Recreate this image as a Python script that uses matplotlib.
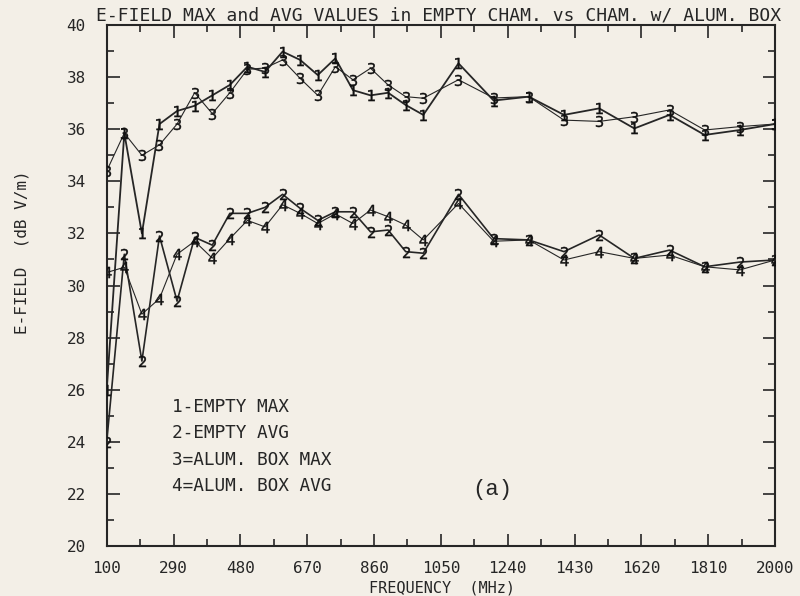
import matplotlib
matplotlib.use("Agg")
import matplotlib.pyplot as plt
from matplotlib.ticker import AutoMinorLocator

# sweep frequencies (MHz): 50 MHz steps to 1000, then 100 MHz steps
FREQ = [100, 150, 200, 250, 300, 350, 400, 450, 500, 550,
        600, 650, 700, 750, 800, 850, 900, 950, 1000,
        1100, 1200, 1300, 1400, 1500, 1600, 1700, 1800, 1900, 2000]

# 1 = empty chamber max
EMPTY_MAX = [26.0, 35.85, 32.0, 36.2, 36.7, 36.9, 37.3, 37.7, 38.4, 38.2,
             38.98, 38.66, 38.08, 38.72, 37.5, 37.3, 37.4, 36.93, 36.55,
             38.53, 37.1, 37.25, 36.55, 36.8, 36.03, 36.55, 35.78, 35.97, 36.2]
# 2 = empty chamber avg
EMPTY_AVG = [24.0, 31.2, 27.1, 31.9, 29.4, 31.85, 31.55, 32.77, 32.77, 33.0,
             33.5, 32.96, 32.5, 32.83, 32.83, 32.06, 32.13, 31.3, 31.24,
             33.5, 31.8, 31.75, 31.3, 31.94, 31.04, 31.36, 30.72, 30.9, 30.98]
# 3 = chamber with aluminium box, max
ALUM_MAX = [34.4, 35.85, 35.0, 35.4, 36.2, 37.4, 36.6, 37.4, 38.3, 38.35,
            38.66, 37.95, 37.3, 38.4, 37.9, 38.34, 37.7, 37.25, 37.19,
            37.9, 37.2, 37.25, 36.35, 36.3, 36.48, 36.74, 35.97, 36.1, 36.2]
# 4 = chamber with aluminium box, avg
ALUM_AVG = [30.5, 30.7, 28.9, 29.5, 31.2, 31.7, 31.05, 31.8, 32.5, 32.25,
            33.1, 32.77, 32.38, 32.75, 32.38, 32.9, 32.64, 32.32, 31.75,
            33.15, 31.7, 31.75, 30.98, 31.3, 31.04, 31.17, 30.72, 30.6, 30.98]

LEGEND_LINES = ["1-EMPTY MAX", "2-EMPTY AVG", "3=ALUM. BOX MAX", "4=ALUM. BOX AVG"]
TITLE = "E-FIELD MAX and AVG VALUES in EMPTY CHAM. vs CHAM. w/ ALUM. BOX"

PAPER = "#f3efe7"
INK = "#262626"
MONO = "DejaVu Sans Mono"

fig = plt.figure(figsize=(8.0, 5.96), dpi=100, facecolor=PAPER)
ax = fig.add_axes([0.1334, 0.0839, 0.8354, 0.8741], facecolor=PAPER)

series = [
    (EMPTY_MAX, "1", 1.3),
    (EMPTY_AVG, "2", 1.2),
    (ALUM_MAX, "3", 0.8),
    (ALUM_AVG, "4", 0.8),
]
for vals, digit, lw in series:
    ax.plot(FREQ, vals, color=INK, lw=lw, zorder=2)
    ax.plot(FREQ, vals, ls="none", marker=f"${digit}$", ms=8, color="#111111",
            mew=0.3, zorder=3)

ax.set_xlim(100, 2000)
ax.set_ylim(20, 40)
ax.set_xticks(range(100, 2001, 190))
ax.set_yticks(range(20, 41, 2))
ax.xaxis.set_minor_locator(AutoMinorLocator(2))
ax.yaxis.set_minor_locator(AutoMinorLocator(2))
ax.tick_params(which="both", direction="in", top=True, right=True, color=INK, width=1.2)
ax.tick_params(which="major", length=9)
ax.tick_params(which="minor", length=5)
ax.tick_params(axis="x", which="major", pad=11, labelsize=11.5, labelcolor=INK)
ax.tick_params(axis="y", which="major", pad=15, labelsize=11.5, labelcolor=INK)
for lab in ax.get_xticklabels() + ax.get_yticklabels():
    lab.set_family(MONO)
for sp in ax.spines.values():
    sp.set_color(INK)
    sp.set_linewidth(1.5)

fig.text(96 / 800, 1 - 15 / 596, TITLE, family=MONO, fontsize=13.0, color=INK,
         ha="left", va="center")
fig.text(442 / 800, 1 - 588 / 596, "FREQUENCY  (MHz)", family=MONO, fontsize=11,
         color=INK, ha="center", va="center")
fig.text(22 / 800, 1 - 252 / 596, "E-FIELD  (dB V/m)", family=MONO, fontsize=11.5,
         color=INK, ha="center", va="center", rotation=90)

for i, line in enumerate(LEGEND_LINES):
    ax.text(172 / 800, 1 - (407 + 26.3 * i) / 596, line, transform=fig.transFigure,
            family=MONO, fontsize=12.8, color=INK, ha="left", va="center")

fig.text(492 / 800, 1 - 489 / 596, "(a)", family="Liberation Mono", fontsize=16,
         color=INK, ha="center", va="center")

fig.savefig("out.png", dpi=100, facecolor=PAPER)
